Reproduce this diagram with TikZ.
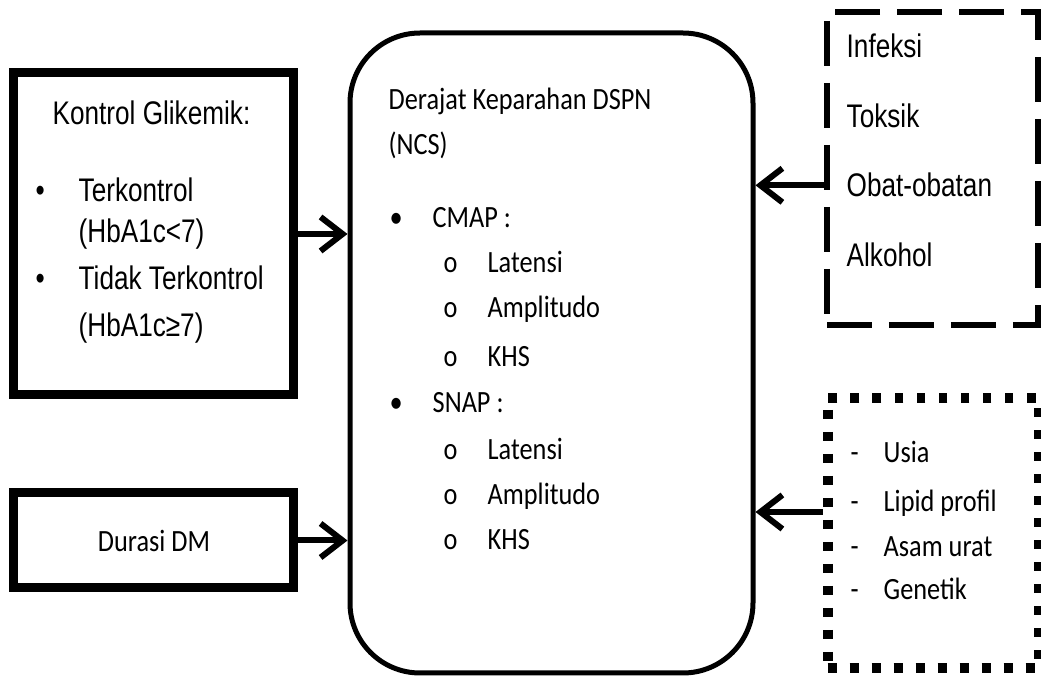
\documentclass[tikz,border=0pt]{standalone}
\usepackage{fontspec}
\usepackage{tikz}
\usetikzlibrary{arrows.meta}
\newfontfamily\calfont[FakeStretch=0.85]{Carlito}
\newfontfamily\narrowfont[FakeStretch=0.8]{Liberation Sans}

\tikzset{
  thickbox/.style={draw, line width=0.09cm, minimum width=2.8cm, inner sep=0pt},
  mainbox/.style={draw, line width=0.05cm, rounded corners=0.7cm, minimum width=4.03cm, minimum height=6.4cm},
  dashbox/.style={draw, line width=0.065cm, dash pattern=on 0.45cm off 0.17cm, minimum width=2.11cm, minimum height=3.13cm},
  dotbox/.style={draw, line width=0.1cm, dash pattern=on 0.09cm off 0.13cm, minimum width=2.11cm, minimum height=2.7cm},
  cal/.style={anchor=base west, inner sep=0pt, font=\calfont\fontsize{8.8pt}{10pt}\selectfont},
  nar/.style={anchor=base west, inner sep=0pt, font=\narrowfont\fontsize{9.3pt}{11pt}\selectfont},
  link/.style={line width=0.06cm, -{Straight Barb[length=0.22cm, width=0.34cm]}}
}

\begin{document}
\begin{tikzpicture}
	\useasboundingbox (0,0) rectangle (10.41,6.78);

	%%%%% BOXES %%%%%
	\node[thickbox, minimum height=3.22cm] (kontrol) at (1.54, 4.44) {};
	\node[thickbox, minimum height=0.95cm, font=\calfont\fontsize{8.8pt}{10pt}\selectfont] (durasi) at (1.54, 1.375) {Durasi DM};
	\node[mainbox] (derajat) at (5.515, 3.25) {};
	\node[dashbox] (faktor) at (9.325, 5.095) {};
	\node[dotbox] (risiko) at (9.33, 1.45) {};

	%%%%% KONTROL GLIKEMIK %%%%%
	\node[nar] (kontrolj) at (0.52, 5.53) {Kontrol Glikemik:};
	\node[nar] (bulleta) at (0.35, 4.76) {•};
	\node[nar] (terkontrol) at (0.78, 4.76) {Terkontrol};
	\node[nar] (hbkurang) at (0.78, 4.35) {(HbA1c<7)};
	\node[nar] (bulletb) at (0.35, 3.88) {•};
	\node[nar] (tidak) at (0.78, 3.88) {Tidak Terkontrol};
	\node[nar] (hblebih) at (0.78, 3.41) {(HbA1c≥7)};

	%%%%% DERAJAT KEPARAHAN %%%%%
	\node[cal] (derajatj) at (3.88, 5.68) {Derajat Keparahan DSPN};
	\node[cal] (ncs) at (3.88, 5.23) {(NCS)};
	\node[cal] (bulletc) at (3.89, 4.50) {•};
	\node[cal] (cmap) at (4.32, 4.50) {CMAP :};
	\node[cal] (oa) at (4.43, 4.05) {o};
	\node[cal] (latensia) at (4.87, 4.05) {Latensi};
	\node[cal] (ob) at (4.43, 3.60) {o};
	\node[cal] (amplitudoa) at (4.87, 3.60) {Amplitudo};
	\node[cal] (oc) at (4.43, 3.11) {o};
	\node[cal] (khsa) at (4.87, 3.11) {KHS};
	\node[cal] (bulletd) at (3.89, 2.65) {•};
	\node[cal] (snap) at (4.32, 2.65) {SNAP :};
	\node[cal] (od) at (4.43, 2.18) {o};
	\node[cal] (latensib) at (4.87, 2.18) {Latensi};
	\node[cal] (oe) at (4.43, 1.73) {o};
	\node[cal] (amplitudob) at (4.87, 1.73) {Amplitudo};
	\node[cal] (of) at (4.43, 1.28) {o};
	\node[cal] (khsb) at (4.87, 1.28) {KHS};

	%%%%% FAKTOR LAIN %%%%%
	\node[nar] (infeksi) at (8.46, 6.20) {Infeksi};
	\node[nar] (toksik) at (8.46, 5.50) {Toksik};
	\node[nar] (obat) at (8.46, 4.81) {Obat-obatan};
	\node[nar] (alkohol) at (8.46, 4.11) {Alkohol};

	\node[cal] (dasha) at (8.50, 2.15) {-};
	\node[cal] (usia) at (8.83, 2.15) {Usia};
	\node[cal] (dashb) at (8.50, 1.66) {-};
	\node[cal] (lipid) at (8.83, 1.66) {Lipid profil};
	\node[cal] (dashc) at (8.50, 1.21) {-};
	\node[cal] (asam) at (8.83, 1.21) {Asam urat};
	\node[cal] (dashd) at (8.50, 0.78) {-};
	\node[cal] (genetik) at (8.83, 0.78) {Genetik};

	%%%%% ARROWS %%%%%
	\draw[link] (kontrol.east) -- (kontrol.east -| derajat.west);
	\draw[link] (durasi.east) -- (durasi.east -| derajat.west);
	\draw[link] (faktor.west |- obat) -- (obat -| derajat.east);
	\draw[link] (risiko.west |- lipid.base) -- (lipid.base -| derajat.east);
\end{tikzpicture}
\end{document}
